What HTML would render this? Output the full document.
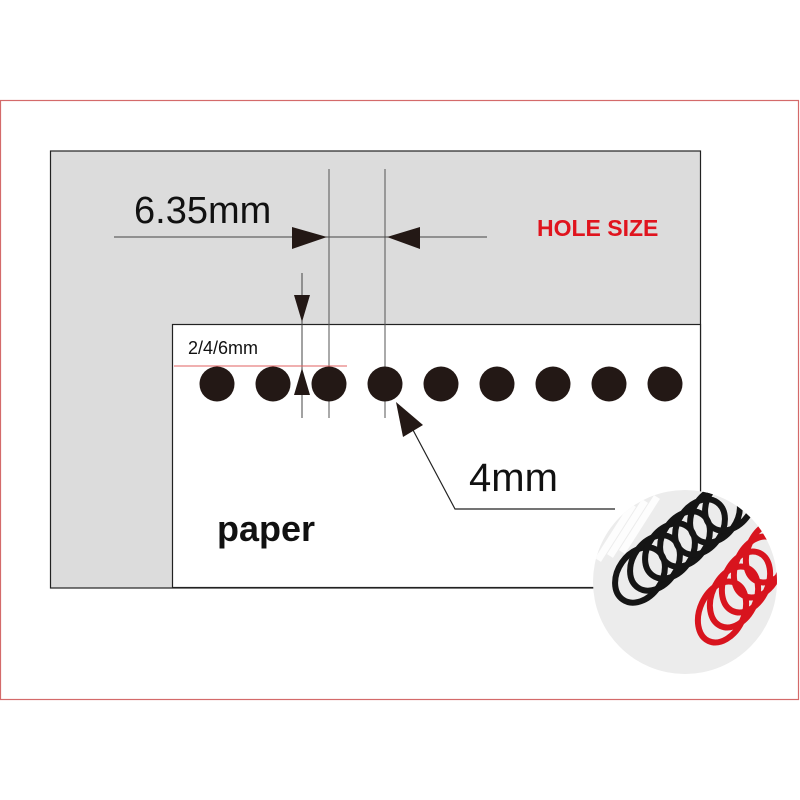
<!DOCTYPE html>
<html><head><meta charset="utf-8"><style>html,body{margin:0;padding:0;background:#fff}svg{display:block}</style></head>
<body>
<svg width="800" height="800" viewBox="0 0 800 800" xmlns="http://www.w3.org/2000/svg">
<defs>
<clipPath id="cc"><circle cx="685" cy="582" r="92"/></clipPath>
</defs>
<rect x="0.5" y="100.5" width="798" height="599" fill="#fff" stroke="#d46a6a" stroke-width="1.2"/>
<rect x="50.5" y="151" width="650" height="437" fill="#dcdcdc" stroke="#222" stroke-width="1.2"/>
<rect x="172.5" y="324.5" width="528" height="263" fill="#fff" stroke="#222" stroke-width="1.2"/>
<line x1="329" y1="169" x2="329" y2="418" stroke="#555" stroke-width="1"/>
<line x1="385" y1="169" x2="385" y2="418" stroke="#555" stroke-width="1"/>
<line x1="114" y1="237" x2="487" y2="237" stroke="#444" stroke-width="1"/>
<polygon points="292,227 292,249 327,237" fill="#231815"/>
<polygon points="420,227 420,249 387,237" fill="#231815"/>
<line x1="302" y1="273" x2="302" y2="418" stroke="#444" stroke-width="1"/>
<polygon points="294,295 310,295 302,322" fill="#231815"/>
<polygon points="294,395 310,395 302,368" fill="#231815"/>
<line x1="174" y1="366" x2="347" y2="366" stroke="#e06060" stroke-width="1"/>
<g fill="#231815">
<circle cx="217" cy="384" r="17.5"/><circle cx="273" cy="384" r="17.5"/><circle cx="329" cy="384" r="17.5"/>
<circle cx="385" cy="384" r="17.5"/><circle cx="441" cy="384" r="17.5"/><circle cx="497" cy="384" r="17.5"/>
<circle cx="553" cy="384" r="17.5"/><circle cx="609" cy="384" r="17.5"/><circle cx="665" cy="384" r="17.5"/>
</g>
<polyline points="413,430 455,509 615,509" fill="none" stroke="#222" stroke-width="1.2"/>
<polygon points="396,402 403,437 423,425" fill="#231815"/>
<text x="134" y="223" font-family="Liberation Sans, sans-serif" font-size="38" fill="#111">6.35mm</text>
<text x="537" y="236" font-family="Liberation Sans, sans-serif" font-size="23" font-weight="bold" fill="#e0141e">HOLE SIZE</text>
<text x="188" y="354" font-family="Liberation Sans, sans-serif" font-size="18" fill="#111">2/4/6mm</text>
<text x="469" y="491" font-family="Liberation Sans, sans-serif" font-size="40" fill="#111">4mm</text>
<text x="217" y="541" font-family="Liberation Sans, sans-serif" font-size="36" font-weight="bold" fill="#111">paper</text>
<g clip-path="url(#cc)">
<rect x="590" y="488" width="190" height="190" fill="#ececec"/>
<g fill="none" stroke="#fff" stroke-width="7" opacity="0.9">
<path d="M598 560 l35 -55 M610 556 l35 -55 M622 552 l35 -55"/>
</g>
<g fill="none" stroke="#151515" stroke-width="6">
<ellipse cx="640" cy="575" rx="22" ry="30" transform="rotate(35 640 575)"/>
<ellipse cx="655" cy="563" rx="22" ry="30" transform="rotate(35 655 563)"/>
<ellipse cx="670" cy="551" rx="22" ry="30" transform="rotate(35 670 551)"/>
<ellipse cx="685" cy="539" rx="22" ry="30" transform="rotate(35 685 539)"/>
<ellipse cx="700" cy="527" rx="22" ry="30" transform="rotate(35 700 527)"/>
<ellipse cx="715" cy="515" rx="22" ry="30" transform="rotate(35 715 515)"/>
<ellipse cx="730" cy="503" rx="22" ry="30" transform="rotate(35 730 503)"/>
</g>
<g fill="none" stroke="#d8141e" stroke-width="6">
<ellipse cx="722" cy="612" rx="22" ry="32" transform="rotate(25 722 612)"/>
<ellipse cx="734" cy="597" rx="22" ry="32" transform="rotate(25 734 597)"/>
<ellipse cx="746" cy="582" rx="22" ry="32" transform="rotate(25 746 582)"/>
<ellipse cx="758" cy="567" rx="22" ry="32" transform="rotate(25 758 567)"/>
<ellipse cx="770" cy="552" rx="22" ry="32" transform="rotate(25 770 552)"/>
</g>
</g>
</svg>
</body></html>
